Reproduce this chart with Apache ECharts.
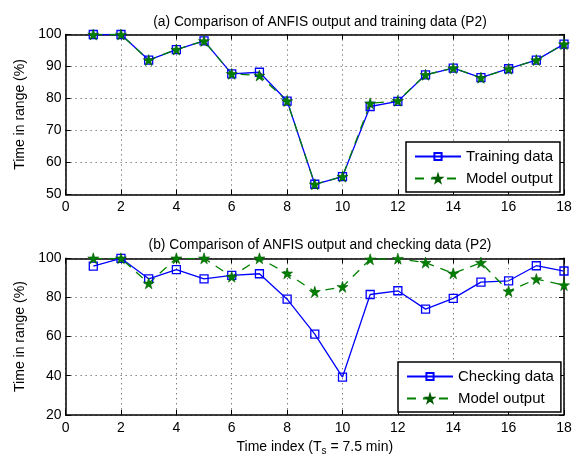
<!DOCTYPE html>
<html>
<head>
<meta charset="utf-8">
<script src="https://cdn.jsdelivr.net/npm/echarts@6/dist/echarts.min.js"></script>
<style>
  html, body { margin: 0; padding: 0; background: #fff; }
  #chart { width: 578px; height: 458px; }
</style>
</head>
<body>
<div id="chart"></div>
<script>
// time index
const timeIndex = [1, 2, 3, 4, 5, 6, 7, 8, 9, 10, 11, 12, 13, 14, 15, 16, 17, 18];

// (a) training
const trainingData = [100, 100, 92, 95.3, 98, 87.7, 88.2, 79.2, 53.2, 55.6, 77.5, 79.1, 87.4, 89.5, 86.5, 89.3, 92, 97];
const trainingModel = [100, 100, 92, 95.3, 98, 87.7, 87.2, 79.2, 53.2, 55.6, 78.5, 79.3, 87.4, 89.5, 86.5, 89.3, 92, 97];

// (b) checking
const checkingData = [96, 100, 89.5, 94.2, 89.5, 91.3, 92.1, 79.1, 61.2, 39.3, 81.5, 83.4, 74, 79.5, 87.8, 88.5, 96.2, 93.5];
const checkingModel = [100, 100, 87.2, 100, 100, 90.6, 100, 92.3, 82.9, 85.4, 99.5, 99.8, 97.8, 92.3, 97.8, 83.2, 89.4, 86.3];

const FONT = 'Liberation Sans, Arial, sans-serif';
const BLUE = '#0000ff';
const GREEN = '#008000';
const STAR = 'path://M50,0 L61,35 L98,35 L68,57 L79,91 L50,70 L21,91 L32,57 L2,35 L39,35 Z';

const pairs = vals => vals.map((v, i) => [timeIndex[i], v]);

const chart = echarts.init(document.getElementById('chart'), null, { renderer: 'canvas' });

// 坐标轴公共样式
const baseX = (gi, pos, main) => ({
  type: 'value', gridIndex: gi, position: pos, min: 0, max: 18, interval: 2,
  axisLine: { show: true, onZero: false, lineStyle: { color: '#000', width: 1.5 } },
  axisTick: { show: true, inside: true, length: 5, lineStyle: { color: '#000' } },
  axisLabel: { show: main, color: '#000', fontFamily: FONT, fontSize: 14, margin: 6 },
  splitLine: { show: main, lineStyle: { color: '#444', type: [1, 4], width: 1 } }
});
const baseY = (gi, pos, main, min, max, interval) => ({
  type: 'value', gridIndex: gi, position: pos, min: min, max: max, interval: interval,
  axisLine: { show: true, onZero: false, lineStyle: { color: '#000', width: 1.5 } },
  axisTick: { show: true, inside: true, length: 5, lineStyle: { color: '#000' } },
  axisLabel: { show: main, color: '#000', fontFamily: FONT, fontSize: 14, margin: 4 },
  splitLine: { show: main, lineStyle: { color: '#444', type: [1, 4], width: 1 } }
});

const dataSeries = (name, vals, xi, yi) => ({
  name: name, type: 'line', xAxisIndex: xi, yAxisIndex: yi, data: pairs(vals),
  symbol: 'rect', symbolSize: 8,
  itemStyle: { color: 'rgba(0,0,0,0)', borderColor: BLUE, borderWidth: 1.3 },
  lineStyle: { color: BLUE, width: 1.3 },
  emphasis: { disabled: true }, animation: false
});
const modelSeries = (vals, xi, yi) => ({
  name: 'Model output', type: 'line', xAxisIndex: xi, yAxisIndex: yi, data: pairs(vals),
  symbol: STAR, symbolSize: 11,
  itemStyle: { color: GREEN, borderColor: '#005a00', borderWidth: 0.6 },
  lineStyle: { color: GREEN, width: 1.3, type: [9, 7] },
  emphasis: { disabled: true }, animation: false
});

const legendBox = (top, left, names) => ({
  orient: 'vertical', left: left, top: top,
  data: names,
  itemWidth: 46, itemHeight: 9, itemGap: 5,
  padding: [6, 7, 5, 8],
  borderColor: '#000', borderWidth: 1.5, backgroundColor: '#fff',
  textStyle: { color: '#000', fontFamily: FONT, fontSize: 15, lineHeight: 17 },
  selectedMode: false
});

const option = {
  animation: false,
  backgroundColor: '#fff',
  title: [
    { text: '(a) Comparison of ANFIS output and training data (P2)', left: 315, top: 10, textAlign: 'center',
      textStyle: { fontFamily: FONT, fontSize: 13.8, fontWeight: 'normal', color: '#000' } },
    { text: '(b) Comparison of ANFIS output and checking data (P2)', left: 315, top: 233, textAlign: 'center',
      textStyle: { fontFamily: FONT, fontSize: 13.8, fontWeight: 'normal', color: '#000' } }
  ],
  grid: [
    { left: 65.6, top: 34.5, width: 498.4, height: 160 },
    { left: 65.6, top: 258.3, width: 498.4, height: 156.5 }
  ],
  xAxis: [
    baseX(0, 'bottom', true),
    Object.assign(baseX(1, 'bottom', true), {
      name: '{n|Time index (T}{s|s}{n| = 7.5 min)}', nameLocation: 'middle', nameGap: 23,
      nameTextStyle: { rich: {
        n: { fontFamily: FONT, fontSize: 14, color: '#000' },
        s: { fontFamily: FONT, fontSize: 10, color: '#000', padding: [8, 0, 0, 0] }
      } }
    }),
    baseX(0, 'top', false),
    baseX(1, 'top', false)
  ],
  yAxis: [
    Object.assign(baseY(0, 'left', true, 50, 100, 10), {
      name: 'Time in range (%)', nameLocation: 'middle', nameGap: 34,
      nameTextStyle: { fontFamily: FONT, fontSize: 14, color: '#000' }
    }),
    Object.assign(baseY(1, 'left', true, 20, 100, 20), {
      name: 'Time in range (%)', nameLocation: 'middle', nameGap: 34,
      nameTextStyle: { fontFamily: FONT, fontSize: 14, color: '#000' }
    }),
    baseY(0, 'right', false, 50, 100, 10),
    baseY(1, 'right', false, 20, 100, 20)
  ],
  legend: [
    legendBox(142, 406, ['Training data', 'Model output']),
    legendBox(362, 398, ['Checking data', 'Model output'])
  ],
  series: [
    dataSeries('Training data', trainingData, 0, 0),
    modelSeries(trainingModel, 0, 0),
    dataSeries('Checking data', checkingData, 1, 1),
    modelSeries(checkingModel, 1, 1)
  ]
};

chart.setOption(option);
</script>
</body>
</html>
